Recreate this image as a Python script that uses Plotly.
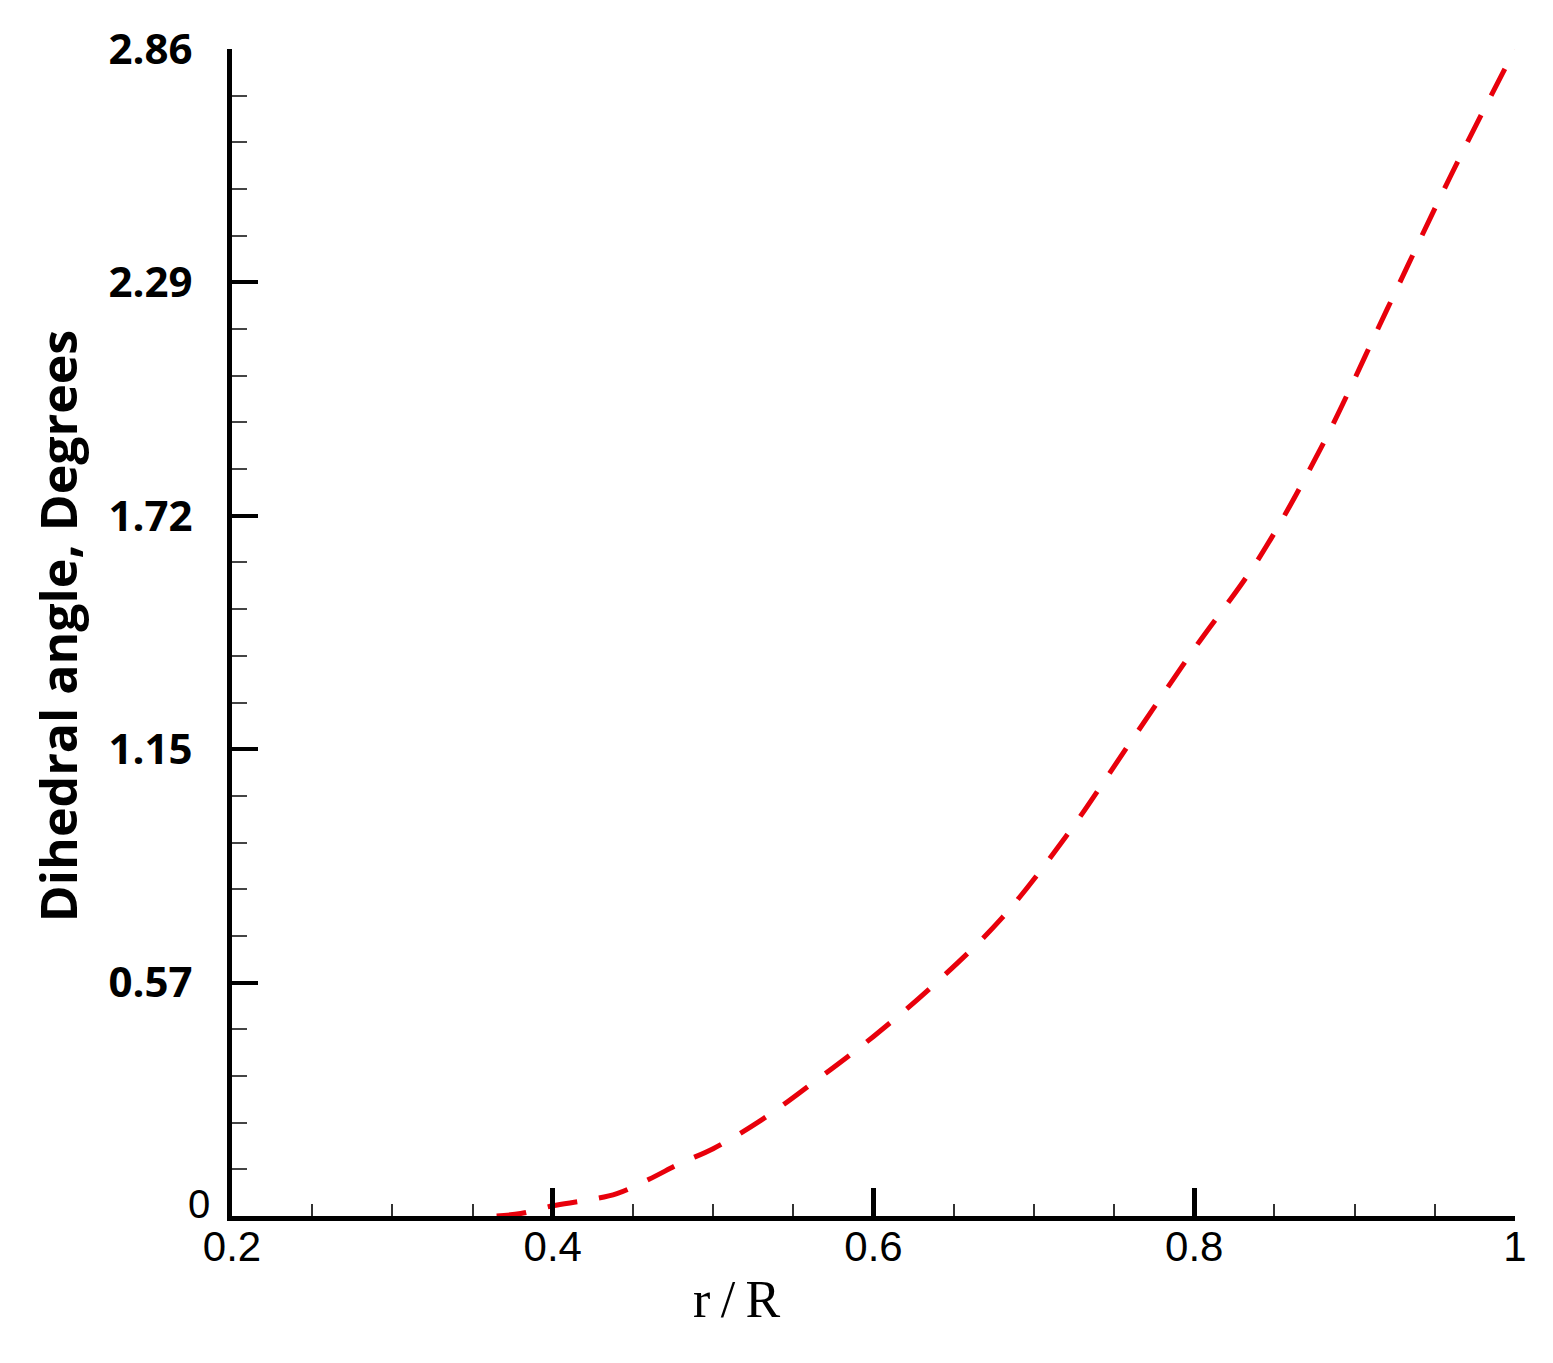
import plotly.graph_objects as go

# Data
r_R = [0.365, 0.38, 0.40, 0.42, 0.44, 0.46, 0.48, 0.50, 0.53, 0.56, 0.60,
       0.64, 0.68, 0.72, 0.76, 0.80, 0.84, 0.88, 0.92, 0.96, 1.00]
dihedral = [0.0, 0.006, 0.025, 0.038, 0.055, 0.09, 0.13, 0.165, 0.235, 0.32, 0.44,
            0.575, 0.73, 0.93, 1.16, 1.39, 1.61, 1.89, 2.22, 2.55, 2.86]

x_ticks = [0.2, 0.4, 0.6, 0.8, 1.0]
x_ticktext = ["0.2", "0.4", "0.6", "0.8", "1"]
y_ticks = [0.572, 1.144, 1.716, 2.288, 2.86]
y_ticktext = ["0.57", "1.15", "1.72", "2.29", "2.86"]

fig = go.Figure()
fig.add_trace(go.Scatter(
    x=r_R, y=dihedral, mode="lines", line_shape="spline",
    line=dict(color="#e8000b", width=5, dash="30px,22px"),
    showlegend=False,
))

fig.update_layout(
    width=1553, height=1363,
    margin=dict(l=224, r=46, t=41, b=155),
    paper_bgcolor="white", plot_bgcolor="white",
    xaxis=dict(
        range=[0.2, 1.0], showgrid=False, zeroline=False,
        showline=True, linecolor="black", linewidth=5,
        tickmode="array", tickvals=x_ticks, ticktext=x_ticktext,
        ticks="inside", ticklen=28, tickwidth=5, tickcolor="black",
        tickfont=dict(family="Liberation Sans, Arial", size=42, color="black"),
        ticklabelstandoff=-10,
        minor=dict(ticks="inside", ticklen=12, tickwidth=1.5, tickcolor="#333",
                   tick0=0.2, dtick=0.05, showgrid=False),
    ),
    yaxis=dict(
        range=[0, 2.86], showgrid=False, zeroline=False,
        showline=True, linecolor="black", linewidth=5,
        tickmode="array", tickvals=y_ticks, ticktext=y_ticktext,
        ticks="inside", ticklen=26, tickwidth=4, tickcolor="black",
        tickfont=dict(family="Open Sans", size=42, color="black", weight="bold"),
        ticklabelstandoff=26,
        minor=dict(ticks="inside", ticklen=15, tickwidth=2, tickcolor="#444",
                   tick0=0, dtick=0.1144, showgrid=False),
    ),
)

# "0" label of y axis (drawn in a plain font, as in the reference)
fig.add_annotation(x=0, xref="paper", xanchor="right", xshift=-20,
                   y=0, yref="y", yanchor="middle", yshift=12,
                   text="0", showarrow=False,
                   font=dict(family="Liberation Sans, Arial", size=40, color="black"))

# Axis titles
fig.add_annotation(x=0.515, xref="x", xanchor="center",
                   y=-0.045, yref="paper", yanchor="top",
                   text="r\u2009/\u2009R", showarrow=False,
                   font=dict(family="Liberation Serif, Times New Roman", size=52, color="black"))
fig.add_annotation(x=-0.136, xref="paper", xanchor="center",
                   y=0.505, yref="paper", yanchor="middle",
                   text="Dihedral angle, Degrees", textangle=-90, showarrow=False,
                   font=dict(family="Open Sans", size=50, color="black", weight="bold"))

fig.write_html("out.html")
